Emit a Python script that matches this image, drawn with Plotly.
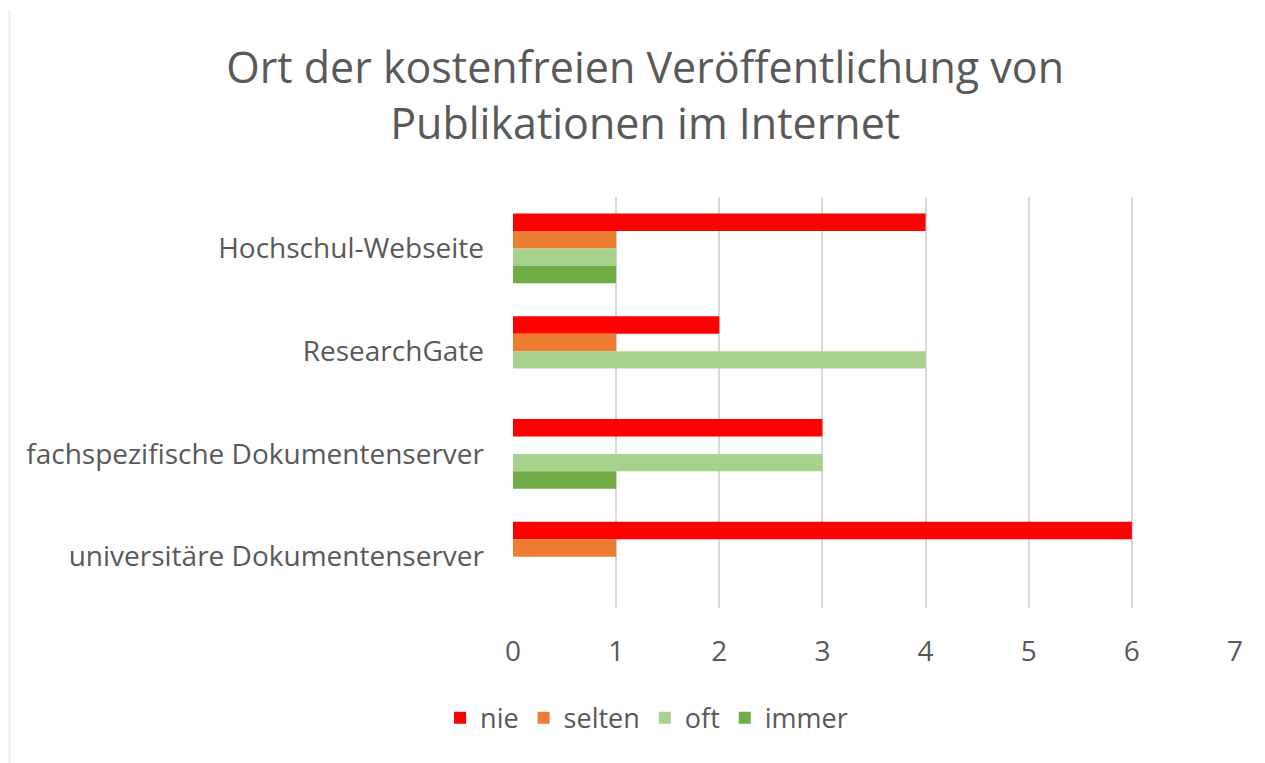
import plotly.graph_objects as go

categories = ["Hochschul-Webseite", "ResearchGate", "fachspezifische Dokumentenserver", "universitäre Dokumentenserver"]
series_names = ["nie", "selten", "oft", "immer"]
nie = [4, 2, 3, 6]
selten = [1, 1, 0, 1]
oft = [1, 4, 3, 0]
immer = [1, 0, 1, 0]
colors = ["#ff0000", "#ed7d31", "#a9d18e", "#70ad47"]
x_ticks = [0, 1, 2, 3, 4, 5, 6, 7]

fig = go.Figure()
for name, vals, col in zip(series_names, [nie, selten, oft, immer], colors):
    fig.add_trace(go.Bar(y=categories, x=vals, name=name, orientation="h",
                         marker=dict(color=col, line=dict(width=0))))

font_color = "#595959"
fig.update_layout(
    width=1265, height=763,
    barmode="group", bargap=0.32, bargroupgap=0,
    plot_bgcolor="white", paper_bgcolor="white",
    font=dict(family="Open Sans", color=font_color, size=27),
    title=dict(text="Ort der kostenfreien Veröffentlichung von<br>Publikationen im Internet",
               x=0.51, xanchor="center", y=1 - 83 / 763, yanchor="middle", yref="container",
               font=dict(size=43, color=font_color, family="Open Sans")),
    margin=dict(l=513, r=30, t=197, b=155),
    xaxis=dict(range=[0, 7], tickvals=x_ticks, showgrid=True, gridcolor="#d9d9d9", gridwidth=2,
               zeroline=False, showline=False, ticks="", ticklabelstandoff=24,
               tickfont=dict(size=28, color=font_color)),
    yaxis=dict(autorange="reversed", showgrid=False, zeroline=False, showline=False, ticks="",
               ticklabelstandoff=28, tickfont=dict(size=28, color=font_color)),
    legend=dict(orientation="h", x=0.185, xanchor="center", y=-0.268, yanchor="middle",
                xref="paper", font=dict(size=27, color=font_color), traceorder="normal"),
    shapes=[dict(type="line", xref="paper", yref="paper", x0=-0.6974, x1=-0.6974, y0=-0.4, y1=1.455,
                 line=dict(color="#eeeeee", width=2), layer="below")],
)

fig.write_html("out.html")
